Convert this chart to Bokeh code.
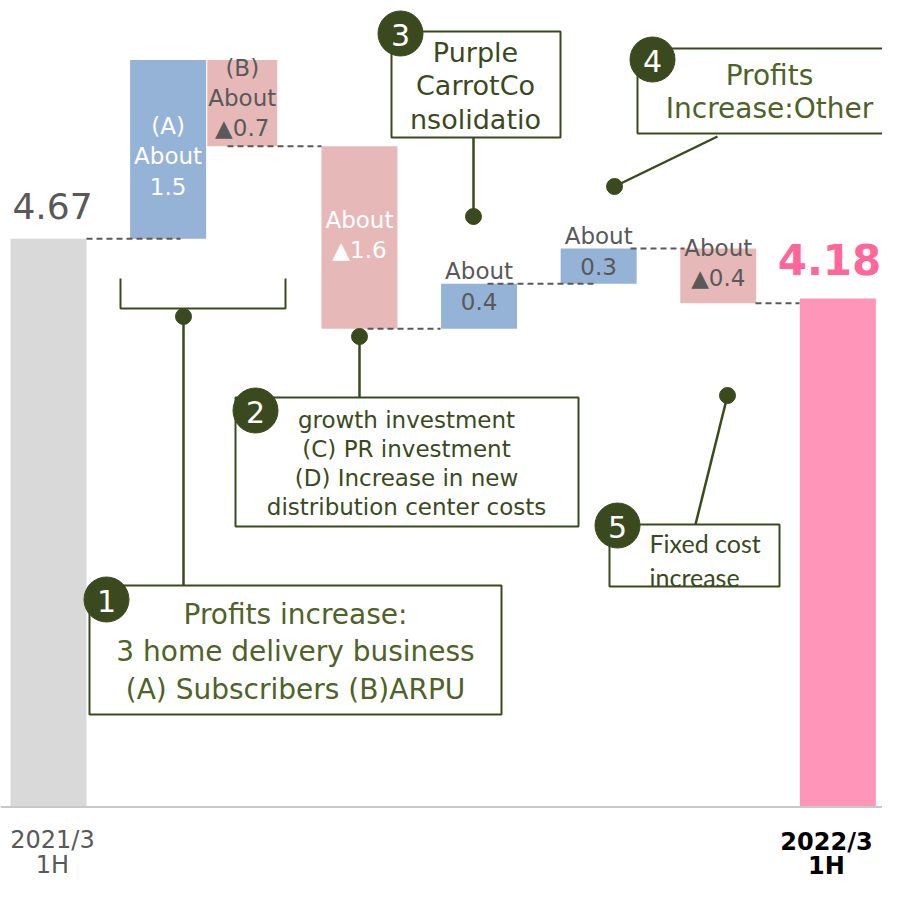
from bokeh.plotting import figure
from bokeh.models import Range1d
from bokeh.embed import file_html
from bokeh.resources import INLINE
from bokeh.core.properties import value

# ---------------- data ----------------
start_label = ["2021/3", "1H"]
end_label = ["2022/3", "1H"]
start_value = 4.67
end_value = 4.18
step_names = ["(A) Subscribers", "(B) ARPU", "(C)(D) Growth investment",
              "Purple Carrot", "Other", "Fixed cost"]
# running total after each step (first entry = starting value)
step_levels = [4.67, 6.14, 5.43, 3.93, 4.30, 4.59, 4.14]
step_texts = [["(A)", "About", "1.5"],
              ["(B)", "About", "▲0.7"],
              ["About", "▲1.6"],
              ["About", "0.4"],
              ["About", "0.3"],
              ["About", "▲0.4"]]
start_text = "4.67"
end_text = "4.18"

box1_lines = ["Profits increase:", "3 home delivery business", "(A) Subscribers (B)ARPU"]
box2_lines = ["growth investment", "(C) PR investment", "(D) Increase in new",
              "distribution center costs"]
box3_lines = ["Purple", "CarrotCo", "nsolidatio"]
box4_lines = ["Profits", "Increase:Other"]
box5_lines = ["Fixed cost", "increase"]

# ---------------- layout / styles ----------------
W = H = 882
PX_X = 119.6   # screen px per slot
X0 = 48.0      # picture x of slot 0
PX_Y = 121.67  # screen px per unit
Y0 = 806.5     # picture y of value 0


def dx(px):
    return (px - X0) / PX_X


def dy(py):
    return (Y0 - py) / PX_Y


def pyv(v):
    return Y0 - v * PX_Y


bar_slots = [0, 1, 1.62, 2.6, 3.6, 4.6, 5.6, 6.6]
bar_w = 76 / PX_X
bar_w_b = 70 / PX_X

GREY_BAR = "#d9d9d9"
BLUE = "#95b3d7"
PINK = "#e6b9b8"
END_PINK = "#ff96b9"
END_TXT = "#ff6699"
TXT_GREY = "#595959"
OL = "#3b4a1e"
OL_TXT = "#4f6228"
FONT = value("DejaVu Sans")

p = figure(width=W, height=H, output_backend="svg", toolbar_location=None,
           x_axis_location=None, y_axis_location=None, min_border=0,
           x_range=Range1d(dx(0), dx(W)), y_range=Range1d(dy(H), dy(0)))
p.grid.visible = False
p.outline_line_color = None
p.background_fill_color = "white"
p.border_fill_color = "white"

# ---- bars ----
p.vbar(x=[bar_slots[0]], width=bar_w, bottom=[0], top=[start_value],
       fill_color=GREY_BAR, line_color=None)
p.vbar(x=[bar_slots[-1]], width=bar_w, bottom=[0], top=[end_value],
       fill_color=END_PINK, line_color=None)

sx, sb, st, sw, sc = [], [], [], [], []
for i in range(len(step_names)):
    a, b = step_levels[i], step_levels[i + 1]
    sx.append(bar_slots[i + 1])
    sb.append(min(a, b))
    st.append(max(a, b))
    sw.append(bar_w_b if i == 1 else bar_w)
    sc.append(BLUE if b > a else PINK)
p.vbar(x=sx, width=sw, bottom=sb, top=st, fill_color=sc, line_color=None)

# ---- dashed connectors ----
conn_spans = [(86, 180), (227, 321), (367, 440), (487, 594), (630, 684), (755, 799)]
conn_levels = [step_levels[0], step_levels[2], step_levels[3], step_levels[4],
               step_levels[5], step_levels[6]]
p.segment(x0=[dx(a) for a, _ in conn_spans], x1=[dx(b) for _, b in conn_spans],
          y0=conn_levels, y1=conn_levels, line_color=TXT_GREY,
          line_width=2, line_dash="6 4")

# ---- axis line ----
p.segment(x0=[dx(0)], x1=[dx(W)], y0=[0], y1=[0], line_color="#c8c8c8", line_width=2)

# ---- bar labels ----
label_offsets = [37, 25, 12, -5, 0, 2]
label_colors = ["white", TXT_GREY, "white", TXT_GREY, TXT_GREY, TXT_GREY]
PITCH = 30
for i, lines in enumerate(step_texts):
    mid = (step_levels[i] + step_levels[i + 1]) / 2
    last = pyv(mid) + label_offsets[i]
    n = len(lines)
    ys = [dy(last - (n - 1 - k) * PITCH) for k in range(n)]
    p.text(x=[bar_slots[i + 1]] * n, y=ys, text=lines, text_font=FONT,
           text_font_size="23px", text_color=label_colors[i],
           text_align="center", text_baseline="middle")

p.text(x=[dx(52)], y=[dy(205)], text=[start_text], text_font=FONT,
       text_font_size="36px", text_color=TXT_GREY, text_align="center",
       text_baseline="middle")
p.text(x=[dx(829)], y=[dy(259)], text=[end_text], text_font=FONT,
       text_font_size="42px", text_font_style="bold", text_color=END_TXT,
       text_align="center", text_baseline="middle")

# ---- category labels ----
p.text(x=[dx(52)] * 2, y=[dy(839), dy(864)], text=start_label, text_font=FONT,
       text_font_size="24px", text_color=TXT_GREY, text_align="center",
       text_baseline="middle")
p.text(x=[dx(826)] * 2, y=[dy(841), dy(865)], text=end_label, text_font=FONT,
       text_font_size="24px", text_font_style="bold", text_color="black",
       text_align="center", text_baseline="middle")

# ---- annotation connectors ----
# bracket for box 1
p.line(x=[dx(120), dx(120), dx(285), dx(285)], y=[dy(278), dy(308), dy(308), dy(278)],
       line_color=OL, line_width=2)
seg = [((183, 316), (183, 585)),
       ((359, 336), (359, 397)),
       ((473, 216), (473, 137)),
       ((614, 186), (717, 136)),
       ((727, 395), (695, 524))]
p.segment(x0=[dx(a[0]) for a, _ in seg], y0=[dy(a[1]) for a, _ in seg],
          x1=[dx(b[0]) for _, b in seg], y1=[dy(b[1]) for _, b in seg],
          line_color=OL, line_width=2.5)
p.scatter(x=[dx(a[0]) for a, _ in seg], y=[dy(a[1]) for a, _ in seg],
          size=16, color=OL)

# ---- boxes ----
boxes = [(89, 501, 585, 714), (235, 578, 397, 526), (391, 560, 31, 137),
         (637, 910, 48, 133), (609, 779, 524, 586)]
p.quad(left=[dx(b[0]) for b in boxes], right=[dx(b[1]) for b in boxes],
       top=[dy(b[2]) for b in boxes], bottom=[dy(b[3]) for b in boxes],
       fill_color="white", line_color=OL, line_width=2)

# box texts
p.text(x=[dx(295)] * 3, y=[dy(614), dy(651), dy(689)], text=box1_lines, text_font=FONT,
       text_font_size="28px", text_color=OL_TXT, text_align="center", text_baseline="middle")
p.text(x=[dx(406)] * 4, y=[dy(419), dy(448), dy(477), dy(506)], text=box2_lines,
       text_font=FONT, text_font_size="23px", text_color=OL, text_align="center",
       text_baseline="middle")
p.text(x=[dx(475)] * 3, y=[dy(52), dy(85), dy(119)], text=box3_lines, text_font=FONT,
       text_font_size="27px", text_color=OL, text_align="center", text_baseline="middle")
p.text(x=[dx(769)] * 2, y=[dy(75), dy(108)], text=box4_lines, text_font=FONT,
       text_font_size="28px", text_color=OL_TXT, text_align="center", text_baseline="middle")
p.text(x=[dx(649)] * 2, y=[dy(542), dy(576)], text=box5_lines, text_font=value("Lato"),
       text_font_size="25px", text_color=OL, text_align="left", text_baseline="middle")

# numbered circles
circ = [(106, 599, "1"), (255, 410, "2"), (400, 33, "3"), (652, 59, "4"), (617, 525, "5")]
p.scatter(x=[dx(c[0]) for c in circ], y=[dy(c[1]) for c in circ], size=45, color=OL)
p.text(x=[dx(c[0]) for c in circ], y=[dy(c[1] + 1) for c in circ], text=[c[2] for c in circ],
       text_font=FONT, text_font_size="30px", text_color="white", text_align="center",
       text_baseline="middle")

open("out.html", "w").write(file_html(p, INLINE))
